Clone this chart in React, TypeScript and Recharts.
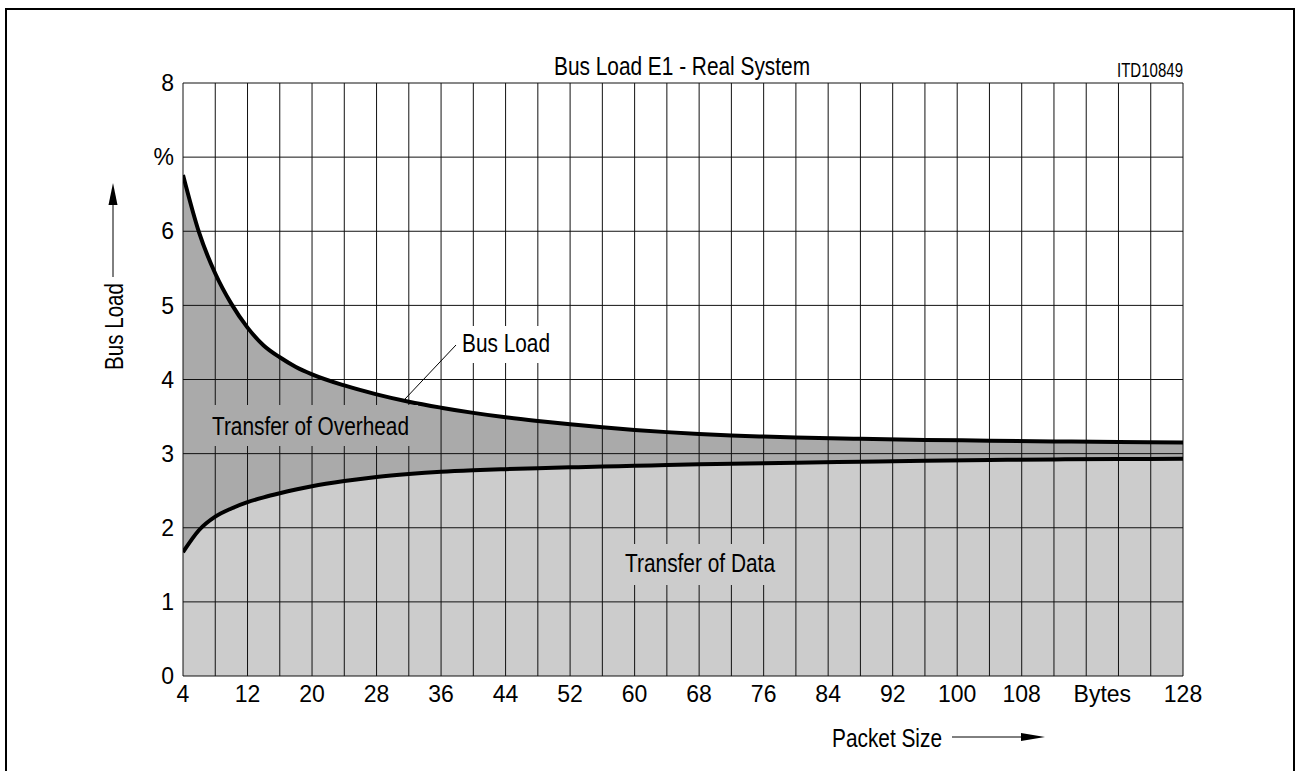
import React from 'react';
import { ComposedChart, Area, Line, XAxis, YAxis, CartesianGrid } from 'recharts';

const packetSizes = [4, 6, 8, 10, 12, 14, 16, 18, 20, 24, 28, 32, 36, 40, 44, 48, 52, 56, 60, 64, 68, 72, 76, 80, 88, 96, 104, 112, 120, 128];
const busLoad = [6.76, 5.98, 5.43, 5.02, 4.7, 4.46, 4.3, 4.17, 4.07, 3.92, 3.8, 3.7, 3.62, 3.55, 3.49, 3.44, 3.395, 3.355, 3.32, 3.29, 3.265, 3.245, 3.23, 3.218, 3.2, 3.185, 3.175, 3.165, 3.157, 3.15];
const dataLoad = [1.67, 1.97, 2.15, 2.26, 2.345, 2.41, 2.465, 2.515, 2.56, 2.63, 2.685, 2.725, 2.755, 2.775, 2.79, 2.803, 2.815, 2.825, 2.835, 2.845, 2.855, 2.862, 2.87, 2.877, 2.89, 2.905, 2.915, 2.922, 2.927, 2.93];

const xTicks = [4, 12, 20, 28, 36, 44, 52, 60, 68, 76, 84, 92, 100, 108, 118, 128];
const xTickLabels: Record<number, string> = { 118: 'Bytes' };
const yTicks = [0, 1, 2, 3, 4, 5, 6, 7, 8];
const yTickLabels: Record<number, string> = { 7: '%' };
const gridX = [4, 8, 12, 16, 20, 24, 28, 32, 36, 40, 44, 48, 52, 56, 60, 64, 68, 72, 76, 80, 84, 88, 92, 96, 100, 104, 108, 112, 116, 120, 124, 128];
const gridY = [0, 1, 2, 3, 4, 5, 6, 7, 8];

const rows = packetSizes.map((p, i) => ({ size: p, bus: busLoad[i], data: dataLoad[i] }));

const W = 1297;
const H = 771;
const FONT = "'Liberation Sans', Arial, sans-serif";
const margin = { top: 83, right: 114, bottom: 0, left: 0 };
const tickStyle = { fontSize: 23, fill: '#000', fontFamily: FONT };

export default function App() {
  const xAxis = (show: boolean) => (
    <XAxis
      dataKey="size"
      type="number"
      domain={[4, 128]}
      ticks={xTicks}
      interval={0}
      height={95}
      axisLine={false}
      tickLine={false}
      tickSize={0}
      tickMargin={10}
      tick={show ? tickStyle : false}
      tickFormatter={(v: number) => xTickLabels[v] ?? String(v)}
      allowDataOverflow
    />
  );
  const yAxis = (show: boolean) => (
    <YAxis
      type="number"
      domain={[0, 8]}
      ticks={yTicks}
      interval={0}
      width={183}
      axisLine={false}
      tickLine={false}
      tickSize={0}
      tickMargin={9}
      tick={show ? tickStyle : false}
      tickFormatter={(v: number) => yTickLabels[v] ?? String(v)}
      allowDataOverflow
    />
  );

  return (
    <div style={{ position: 'absolute', left: 0, top: 0, width: W, height: H, overflow: 'hidden', background: '#fff' }}>
      <div style={{ position: 'absolute', left: 0, top: 0 }}>
        <ComposedChart width={W} height={H} data={rows} margin={margin}>
          {xAxis(false)}
          {yAxis(false)}
          <Area type="monotone" dataKey="bus" stroke="none" fill="#aaaaaa" fillOpacity={1} isAnimationActive={false} dot={false} activeDot={false} />
          <Area type="monotone" dataKey="data" stroke="none" fill="#cccccc" fillOpacity={1} isAnimationActive={false} dot={false} activeDot={false} />
        </ComposedChart>
      </div>
      <div style={{ position: 'absolute', left: 0, top: 0 }}>
        <ComposedChart width={W} height={H} data={rows} margin={margin}>
          {xAxis(true)}
          {yAxis(true)}
          <CartesianGrid stroke="#111" strokeWidth={1} verticalValues={gridX} horizontalValues={gridY} />
          <Line type="monotone" dataKey="bus" stroke="#000" strokeWidth={4} dot={false} activeDot={false} isAnimationActive={false} />
          <Line type="monotone" dataKey="data" stroke="#000" strokeWidth={4} dot={false} activeDot={false} isAnimationActive={false} />
        </ComposedChart>
      </div>
      <svg width={W} height={H} style={{ position: 'absolute', left: 0, top: 0, pointerEvents: 'none' }} fontFamily={FONT}>
        <rect x={6} y={9} width={1288} height={820} fill="none" stroke="#000" strokeWidth={2} />
        <text x={682} y={75} textAnchor="middle" fontSize={25} textLength={256} lengthAdjust="spacingAndGlyphs">Bus Load E1 - Real System</text>
        <text x={1183} y={77} textAnchor="end" fontSize={19.5} textLength={66} lengthAdjust="spacingAndGlyphs">ITD10849</text>

        <rect x={455} y={326} width={105} height={37} fill="#fff" />
        <text x={462} y={352} fontSize={25.5} textLength={88} lengthAdjust="spacingAndGlyphs">Bus Load</text>
        <line x1={405} y1={399} x2={456} y2={345} stroke="#000" strokeWidth={1} />

        <rect x={205} y={405} width={213} height={41} fill="#aaaaaa" />
        <text x={212} y={435} fontSize={25.5} textLength={197} lengthAdjust="spacingAndGlyphs">Transfer of Overhead</text>

        <rect x={618} y={544} width={165} height={41} fill="#cccccc" />
        <text x={700} y={572} textAnchor="middle" fontSize={25.5} textLength={150} lengthAdjust="spacingAndGlyphs">Transfer of Data</text>

        <text x={123} y={370} transform="rotate(-90 123 370)" fontSize={25.5} textLength={87} lengthAdjust="spacingAndGlyphs">Bus Load</text>
        <line x1={113} y1={277} x2={113} y2={200} stroke="#000" strokeWidth={1} />
        <polygon points="113,183 108.5,205 117.5,205" fill="#000" />

        <text x={832} y={747} fontSize={25.5} textLength={110} lengthAdjust="spacingAndGlyphs">Packet Size</text>
        <line x1={952} y1={737} x2={1025} y2={737} stroke="#000" strokeWidth={1} />
        <polygon points="1045,737 1021,733 1021,741" fill="#000" />
      </svg>
    </div>
  );
}
